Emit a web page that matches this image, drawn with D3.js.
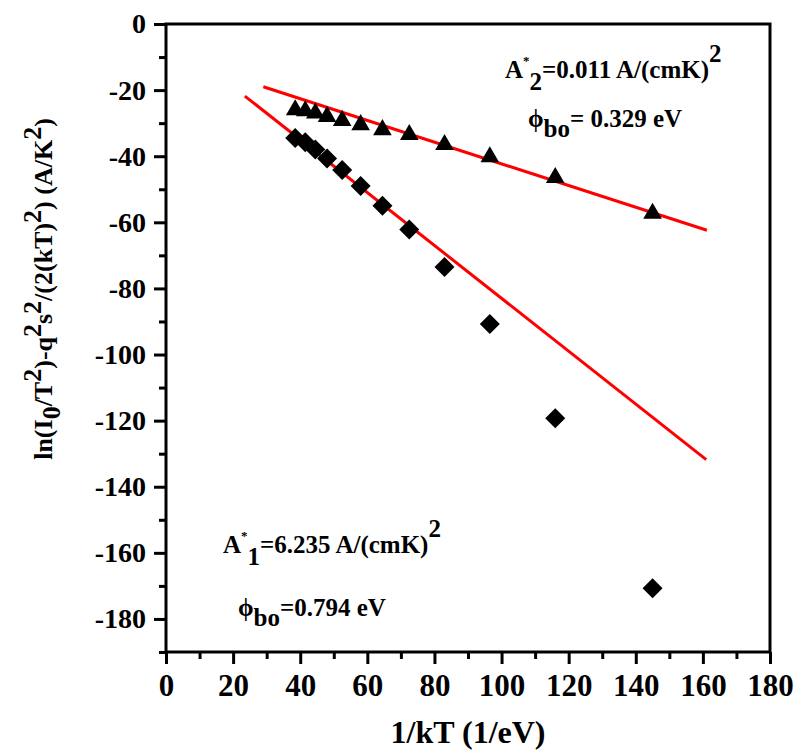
<!DOCTYPE html>
<html>
<head>
<meta charset="utf-8">
<script src="https://cdn.jsdelivr.net/npm/d3@7"></script>
<style>
  body { margin: 0; background: #fff; }
</style>
</head>
<body>
<svg id="chart" width="795" height="756"></svg>
<script>
// Data ------------------------------------------
var invKT = [38.5, 41.5, 44.5, 48, 52.5, 58, 64.5, 72.5, 83, 96.5, 116, 145];
var seriesTri = [-26, -26.3, -27, -28, -29.2, -30.5, -32, -33.5, -36.5, -40.2, -46.5, -57.3];
var seriesDia = [-34.5, -35.8, -38, -40.7, -44.2, -49, -55, -62.2, -73.5, -90.8, -119.3, -170.7];
// linear fits, endpoints [x, y]
var fitTri = [[29, -19], [161.2, -62.4]];
var fitDia = [[23.5, -21.8], [161, -131.8]];
var xTicks = [0, 20, 40, 60, 80, 100, 120, 140, 160, 180];
var yTicks = [0, -20, -40, -60, -80, -100, -120, -140, -160, -180];

var FONT = "'Liberation Serif', 'Times New Roman', serif";

var svg = d3.select("#chart");
var margin = { left: 166, top: 24, right: 25, bottom: 104 };
var width = 795 - margin.left - margin.right;
var height = 756 - margin.top - margin.bottom;

var g = svg.append("g").attr("transform", "translate(" + margin.left + "," + margin.top + ")");

// Scales ---------------------------------------
var x = d3.scaleLinear().domain([0, 180]).range([0, width]);
var y = d3.scaleLinear().domain([0, -190]).range([0, height]);

// Axes -----------------------------------------
g.append("g")
    .attr("transform", "translate(0," + height + ")")
    .call(d3.axisBottom(x).tickValues(d3.range(10, 180, 20)).tickSize(7).tickFormat(""));
var xMajor = g.append("g")
    .attr("transform", "translate(0," + height + ")")
    .call(d3.axisBottom(x).tickValues(xTicks).tickSize(12).tickPadding(10).tickFormat(function(d) { return d; }));
xMajor.selectAll("text")
    .style("font-family", FONT).style("font-weight", "bold")
    .style("font-size", "31px").attr("fill", "#000").attr("dy", "0.71em");

g.append("g")
    .call(d3.axisLeft(y).tickValues(d3.range(-10, -200, -20)).tickSize(7).tickFormat(""));
var yMajor = g.append("g")
    .call(d3.axisLeft(y).tickValues(yTicks).tickSize(12).tickPadding(8).tickFormat(function(d) { return d; }));
yMajor.selectAll("text")
    .style("font-family", FONT).style("font-weight", "bold")
    .style("font-size", "28px").attr("fill", "#000");

g.selectAll(".domain").remove();
g.selectAll(".tick line").attr("stroke", "#000").attr("stroke-width", 3);

// frame
g.append("rect")
    .attr("x", 0).attr("y", 0)
    .attr("width", width).attr("height", height)
    .attr("fill", "none").attr("stroke", "#000").attr("stroke-width", 3);

// Fit lines ------------------------------------
var line = d3.line().x(function(d) { return x(d[0]); }).y(function(d) { return y(d[1]); });
[fitTri, fitDia].forEach(function(f) {
  g.append("path").attr("d", line(f))
      .attr("fill", "none").attr("stroke", "#ff0000").attr("stroke-width", 3);
});

// Markers --------------------------------------
var tri = d3.symbol().type(d3.symbolTriangle).size(150);
var dia = d3.symbol().type(d3.symbolSquare).size(200);

g.selectAll(".tri")
    .data(invKT.map(function(v, i) { return [v, seriesTri[i]]; }))
    .enter().append("path")
    .attr("class", "tri")
    .attr("d", tri)
    .attr("transform", function(d) { return "translate(" + x(d[0]) + "," + y(d[1]) + ")"; })
    .attr("fill", "#000");

g.selectAll(".dia")
    .data(invKT.map(function(v, i) { return [v, seriesDia[i]]; }))
    .enter().append("path")
    .attr("class", "dia")
    .attr("d", dia)
    .attr("transform", function(d) { return "translate(" + x(d[0]) + "," + y(d[1]) + ") rotate(45)"; })
    .attr("fill", "#000");

// Annotations ----------------------------------
function txt(px, py, size) {
  return svg.append("text").attr("x", px).attr("y", py)
      .style("font-family", FONT).style("font-weight", "bold")
      .style("font-size", size + "px").attr("fill", "#000");
}
function starLabel(px, py, sub, rest) {
  var t = txt(px, py, 25);
  t.append("tspan").text("A");
  t.append("tspan").attr("dy", -13).style("font-size", "13px").text("*");
  t.append("tspan").attr("dy", 25).text(sub);
  t.append("tspan").attr("dy", -12).text(rest);
  t.append("tspan").attr("dy", -16).text("2");
}
function phiLabel(px, py, rest) {
  var t = txt(px, py, 25);
  t.append("tspan").text("\u03d5");
  t.append("tspan").attr("dy", 10).text("bo");
  t.append("tspan").attr("dy", -10).text(rest);
}
starLabel(505, 78, "2", "=0.011 A/(cmK)");
phiLabel(528, 127, "= 0.329 eV");
starLabel(223, 553, "1", "=6.235 A/(cmK)");
phiLabel(238, 616, "=0.794 eV");

// Axis titles ----------------------------------
txt(468, 743, 32)
    .attr("text-anchor", "middle")
    .text("1/kT (1/eV)");

var yt = txt(0, 0, 26)
    .attr("x", null).attr("y", null)
    .attr("transform", "translate(52,289) rotate(-90)")
    .attr("text-anchor", "middle");
yt.append("tspan").text("ln(I");
yt.append("tspan").attr("dy", 8).text("0");
yt.append("tspan").attr("dy", -8).text("/T");
yt.append("tspan").attr("dy", -11).text("2");
yt.append("tspan").attr("dy", 11).text(")-q");
yt.append("tspan").attr("dy", -11).text("2");
yt.append("tspan").attr("dy", 11).text("s");
yt.append("tspan").attr("dy", -11).text("2");
yt.append("tspan").attr("dy", 11).text("/(2(kT)");
yt.append("tspan").attr("dy", -11).text("2");
yt.append("tspan").attr("dy", 11).text(") (A/K");
yt.append("tspan").attr("dy", -11).text("2");
yt.append("tspan").attr("dy", 11).text(")");
</script>
</body>
</html>
